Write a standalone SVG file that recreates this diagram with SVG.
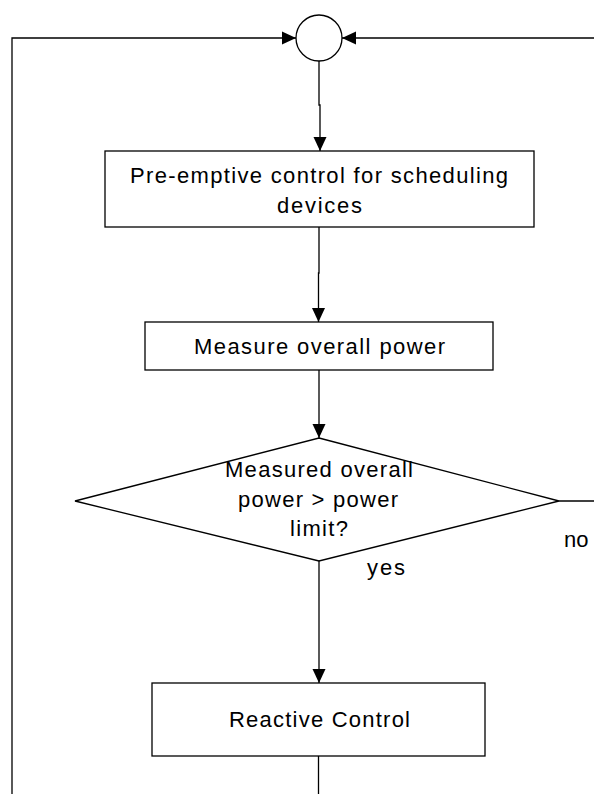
<svg xmlns="http://www.w3.org/2000/svg" width="594" height="794" viewBox="0 0 594 794">
<style>
.shape{fill:#fff;stroke:#000;stroke-width:1.3}
.line{fill:none;stroke:#000;stroke-width:1.3}
text{font-family:"Liberation Sans",Arial,sans-serif;font-size:22px;fill:#000}
.c{text-anchor:middle}
</style>
<defs>
<marker id="arr" viewBox="0 0 14 14" refX="14" refY="7" markerWidth="14" markerHeight="14" markerUnits="userSpaceOnUse" orient="auto">
<path d="M0,0.5 L14,7 L0,13.5 Z" fill="#000"/>
</marker>
</defs>
<rect width="594" height="794" fill="#fff"/>
<g id="connectors">
<polyline class="line" points="12,794 12,38 296,38" marker-end="url(#arr)"/>
<line class="line" x1="594" y1="38" x2="342" y2="38" marker-end="url(#arr)"/>
<polyline class="line" points="319,61 319,105 320,105 320,151" marker-end="url(#arr)"/>
<polyline class="line" points="319,227 319,273 318.5,273 318.5,322" marker-end="url(#arr)"/>
<line class="line" x1="319" y1="370" x2="319" y2="438" marker-end="url(#arr)"/>
<line class="line" x1="319" y1="561" x2="319" y2="683" marker-end="url(#arr)"/>
<line class="line" x1="559" y1="501" x2="594" y2="501"/>
<line class="line" x1="318.5" y1="756" x2="318.5" y2="794"/>
<text x="564" y="547">no</text>
<text x="367" y="575" textLength="38" lengthAdjust="spacing">yes</text>
</g>
<g id="merge">
<ellipse class="shape" cx="319" cy="38" rx="23" ry="23"/>
</g>
<g id="preemptive">
<rect class="shape" x="105" y="151" width="429" height="76"/>
<text class="c" x="319" y="183" textLength="378" lengthAdjust="spacing">Pre-emptive control for scheduling</text>
<text class="c" x="319.5" y="213" textLength="85" lengthAdjust="spacing">devices</text>
</g>
<g id="measure">
<rect class="shape" x="145" y="322" width="348" height="48"/>
<text class="c" x="319.5" y="354" textLength="251" lengthAdjust="spacing">Measure overall power</text>
</g>
<g id="decision">
<polygon class="shape" points="319,438 559,501 319,561 75,501"/>
<text class="c" x="319" y="477" textLength="188" lengthAdjust="spacing">Measured overall</text>
<text class="c" x="318" y="507" textLength="160" lengthAdjust="spacing">power &gt; power</text>
<text class="c" x="319" y="536" textLength="58" lengthAdjust="spacing">limit?</text>
</g>
<g id="reactive">
<rect class="shape" x="152" y="683" width="333" height="73"/>
<text class="c" x="319.5" y="727" textLength="181" lengthAdjust="spacing">Reactive Control</text>
</g>
</svg>
